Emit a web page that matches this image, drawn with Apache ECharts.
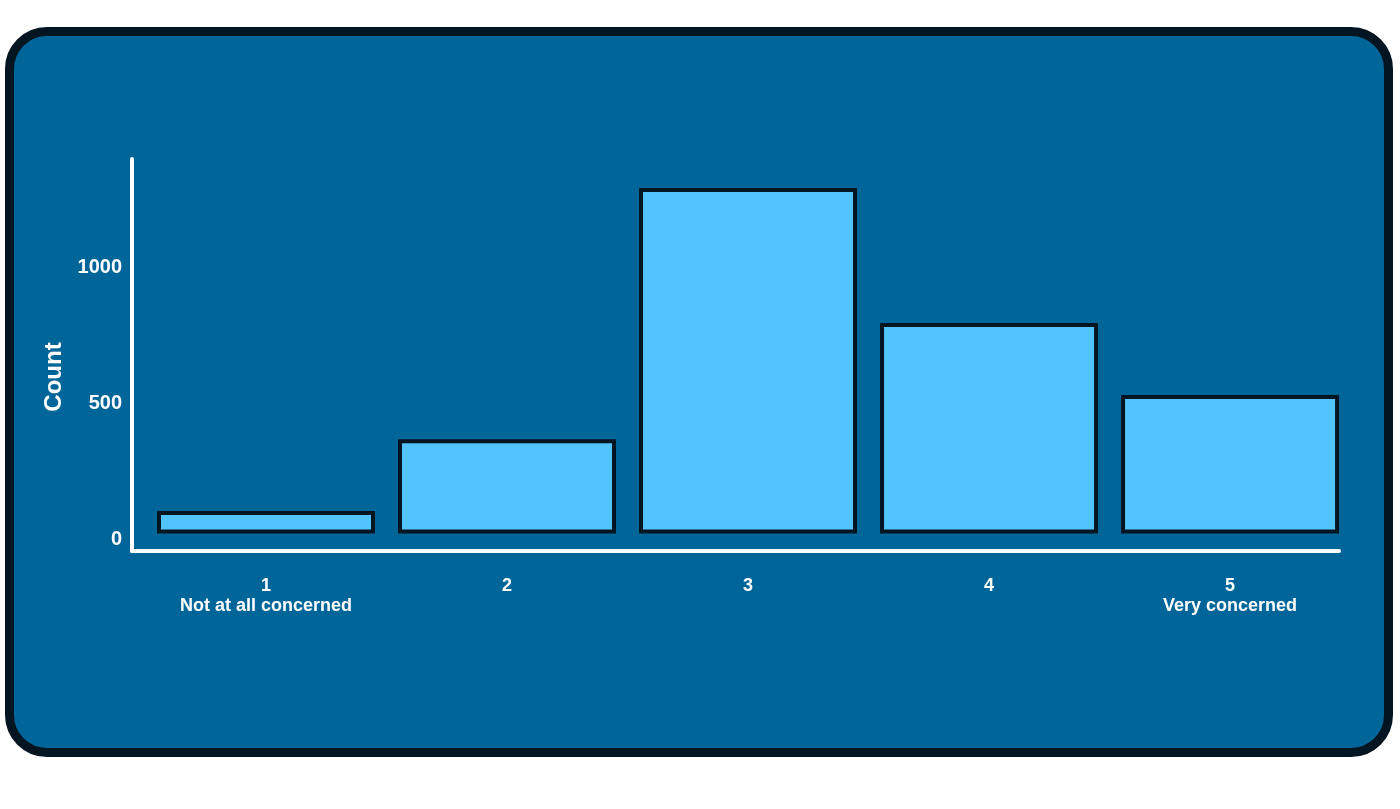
<!DOCTYPE html>
<html>
<head>
<meta charset="utf-8">
<script src="https://cdn.jsdelivr.net/npm/echarts@6/dist/echarts.min.js"></script>
<style>
  html, body { margin: 0; padding: 0; width: 1400px; height: 809px; background: #ffffff; overflow: hidden; }
  #card { position: absolute; left: 5px; top: 27px; width: 1370px; height: 712px; border: 9px solid #041522; border-radius: 42px; background: #006699; }
  #chart { position: absolute; left: 0; top: 0; width: 1400px; height: 809px; }
</style>
</head>
<body>
<div id="card"></div>
<div id="chart"></div>
<script>
const categories = [1, 2, 3, 4, 5];
const categoryLabels = ['1\nNot at all concerned', '2', '3', '4', '5\nVery concerned'];
const counts = [83, 347, 1270, 774, 509];
const yTicks = [0, 500, 1000];

const chart = echarts.init(document.getElementById('chart'), null, { renderer: 'canvas' });
const FONT = '"Liberation Sans", Arial, sans-serif';
chart.setOption({
  backgroundColor: 'transparent',
  animation: false,
  grid: { left: 132, right: 61, top: 159, bottom: 258, containLabel: false },
  xAxis: {
    type: 'value',
    min: 0.444,
    max: 5.452,
    splitLine: { show: false },
    axisLine: { show: true, onZero: false, lineStyle: { color: '#ffffff', width: 4 } },
    axisTick: { show: false },
    axisLabel: {
      customValues: categories,
      color: '#ffffff',
      fontFamily: FONT,
      fontWeight: 'bold',
      fontSize: 18,
      lineHeight: 20,
      margin: 25,
      formatter: function (v) {
        const i = categories.indexOf(Math.round(v));
        return i >= 0 ? categoryLabels[i] : '';
      }
    }
  },
  yAxis: {
    type: 'value',
    min: -64,
    max: 1377,
    name: 'Count',
    nameLocation: 'middle',
    nameGap: 58,
    nameRotate: 90,
    nameTextStyle: { color: '#ffffff', fontFamily: FONT, fontWeight: 'bold', fontSize: 24, padding: [0, 44, 0, 0] },
    splitLine: { show: false },
    axisLine: { show: true, onZero: false, lineStyle: { color: '#ffffff', width: 4 } },
    axisTick: { show: false },
    axisLabel: {
      customValues: yTicks,
      color: '#ffffff',
      fontFamily: FONT,
      fontWeight: 'bold',
      fontSize: 20,
      margin: 10,
      verticalAlign: 'top',
      lineHeight: 12,
      formatter: function (v) { return String(v); }
    }
  },
  series: [{
    type: 'bar',
    data: categories.map((c, i) => [c, counts[i]]),
    barWidth: 218,
    itemStyle: { color: '#52c4ff', borderColor: '#041522', borderWidth: 4 }
  }]
});
</script>
</body>
</html>
